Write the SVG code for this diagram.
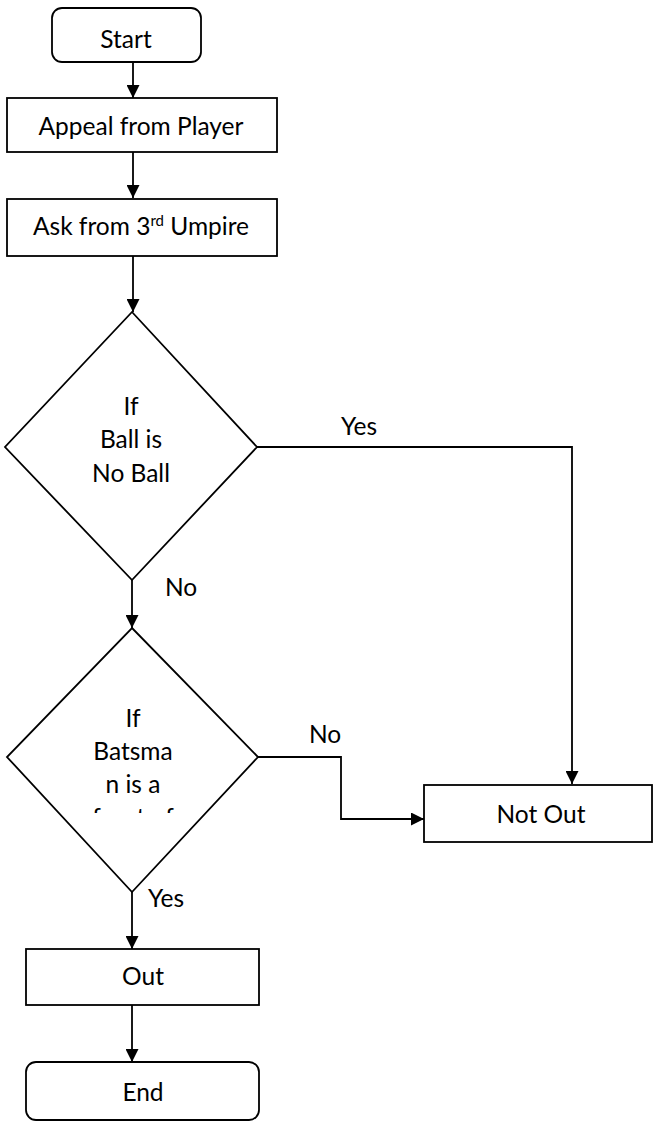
<svg xmlns="http://www.w3.org/2000/svg" width="654" height="1122" viewBox="0 0 654 1122">
<style>
.shape{fill:#fff;stroke:#000;stroke-width:1.8}
.t{font-family:Lato,"Liberation Sans",sans-serif;font-size:24.5px;fill:#000;text-anchor:middle}
.l{font-family:Lato,"Liberation Sans",sans-serif;font-size:24.5px;fill:#000}
.c{fill:none;stroke:#000;stroke-width:1.8}
</style>
<defs>
<marker id="ah" markerWidth="13" markerHeight="13" refX="13" refY="6.5" orient="auto" markerUnits="userSpaceOnUse">
<path d="M0,0 L13,6.5 L0,13 Z" fill="#000"/>
</marker>
<clipPath id="d2clip"><rect x="0" y="690" width="300" height="123"/></clipPath>
</defs>
<rect width="654" height="1122" fill="#fff"/>
<g id="connectors">
<line class="c" x1="133" y1="62" x2="133" y2="98" marker-end="url(#ah)"/>
<line class="c" x1="133" y1="152" x2="133" y2="198" marker-end="url(#ah)"/>
<line class="c" x1="133" y1="256" x2="133" y2="312" marker-end="url(#ah)"/>
<polyline class="c" points="257,447 572,447 572,784" marker-end="url(#ah)"/>
<line class="c" x1="132" y1="580" x2="132" y2="628" marker-end="url(#ah)"/>
<polyline class="c" points="258,757 341,757 341,819 424,819" marker-end="url(#ah)"/>
<line class="c" x1="132" y1="892" x2="132" y2="949" marker-end="url(#ah)"/>
<line class="c" x1="132" y1="1005" x2="132" y2="1062" marker-end="url(#ah)"/>
<text class="l" x="341" y="435">Yes</text>
<text class="l" x="165" y="596">No</text>
<text class="l" x="309" y="743">No</text>
<text class="l" x="148" y="907">Yes</text>
</g>
<g id="start">
<rect class="shape" x="52" y="8" width="149" height="54" rx="10"/>
<text class="t" x="126" y="48">Start</text>
</g>
<g id="appeal">
<rect class="shape" x="7" y="98" width="270" height="54"/>
<text class="t" x="141" y="135">Appeal from Player</text>
</g>
<g id="ask">
<rect class="shape" x="7" y="199" width="270" height="57"/>
<text class="t" x="141" y="235">Ask from 3<tspan font-size="15" dy="-9">rd</tspan><tspan dy="9"> Umpire</tspan></text>
</g>
<g id="noball">
<polygon class="shape" points="132,312 257,447 132,580 5,447"/>
<text class="t" x="131" y="415">If</text>
<text class="t" x="131" y="448">Ball is</text>
<text class="t" x="131" y="482">No Ball</text>
</g>
<g id="batsman">
<polygon class="shape" points="132,628 258,757 132,892 7,757"/>
<g clip-path="url(#d2clip)">
<text class="t" x="133" y="727">If</text>
<text class="t" x="133" y="760">Batsma</text>
<text class="t" x="133" y="793">n is a</text>
<text class="t" x="133" y="826">front of</text>
</g>
</g>
<g id="notout">
<rect class="shape" x="424" y="785" width="228" height="57"/>
<text class="t" x="541" y="823">Not Out</text>
</g>
<g id="out">
<rect class="shape" x="26" y="949" width="233" height="56"/>
<text class="t" x="143" y="985">Out</text>
</g>
<g id="end">
<rect class="shape" x="26" y="1062" width="233" height="58" rx="10"/>
<text class="t" x="143" y="1101">End</text>
</g>
</svg>
